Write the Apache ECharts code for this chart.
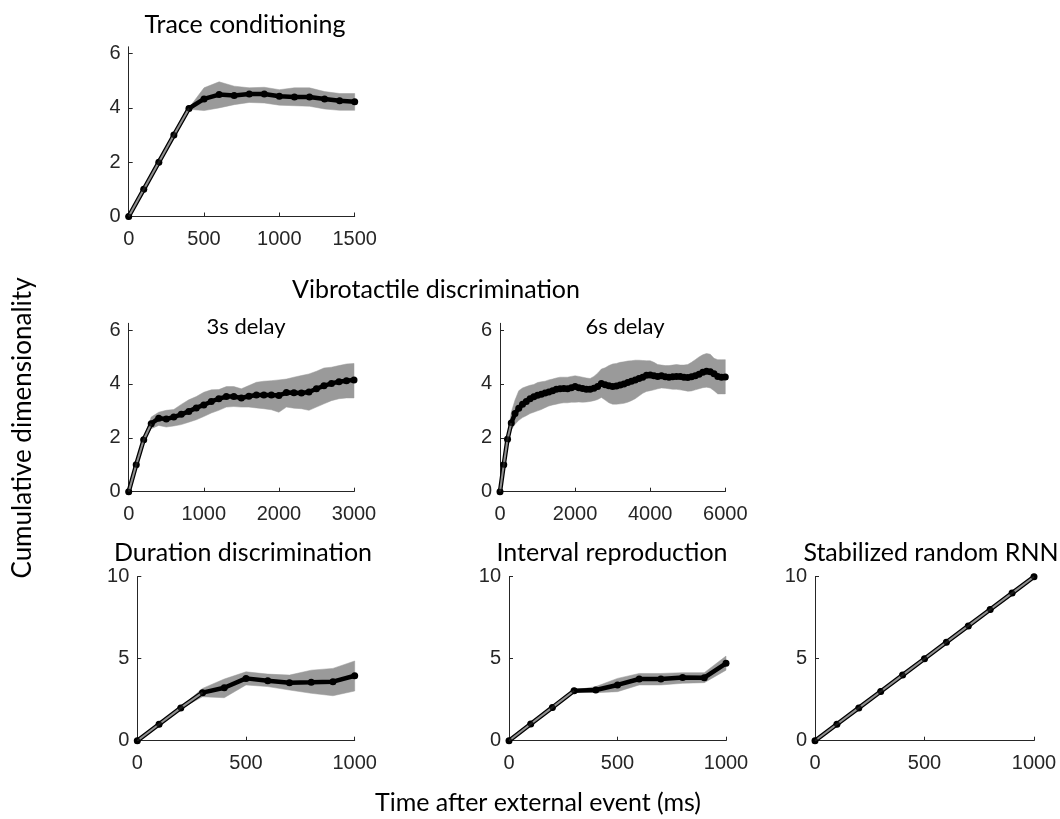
<!DOCTYPE html>
<html>
<head>
<meta charset="utf-8">
<script src="https://cdn.jsdelivr.net/npm/echarts@6/dist/echarts.min.js"></script>
<style>
html,body{margin:0;padding:0;background:#fff;}
#chart{width:1060px;height:819px;}
</style>
</head>
<body>
<div id="chart"></div>
<script>
// ---------- DATA ----------
// Trace conditioning (x every 100 ms, 0..1500)
const traceX = [0,100,200,300,400,500,600,700,800,900,1000,1100,1200,1300,1400,1500];
const traceMean  = [0,1,2,3,3.98,4.33,4.49,4.46,4.51,4.51,4.43,4.4,4.4,4.33,4.26,4.23];
const traceUpper = [0,1.02,2.02,3.02,4.0,4.74,4.96,4.8,4.74,4.76,4.67,4.74,4.74,4.6,4.53,4.53];
const traceLower = [0,0.98,1.98,2.98,3.95,3.9,4.0,4.12,4.2,4.18,4.1,4.08,4.06,3.96,3.91,3.91];

// Vibrotactile 3s delay (x every 100 ms, 0..3000)
const vib3X = [0,100,200,300,400,500,600,700,800,900,1000,1100,1200,1300,1400,1500,1600,1700,1800,1900,2000,2100,2200,2300,2400,2500,2600,2700,2800,2900,3000];
const vib3Mean  = [0,1.0,1.93,2.52,2.73,2.7,2.77,2.87,2.98,3.11,3.22,3.35,3.45,3.53,3.53,3.48,3.54,3.59,3.59,3.59,3.57,3.68,3.67,3.66,3.7,3.82,3.93,4.02,4.08,4.12,4.15];
const vib3Upper = [0,1.02,1.97,2.77,2.95,3.02,3.05,3.24,3.41,3.53,3.69,3.78,3.79,3.9,3.9,3.82,3.94,4.06,4.1,4.12,4.15,4.18,4.25,4.31,4.37,4.47,4.59,4.62,4.68,4.74,4.76];
const vib3Lower = [0,0.98,1.89,2.34,2.46,2.4,2.44,2.49,2.58,2.67,2.79,2.92,3.02,3.14,3.16,3.14,3.14,3.11,3.08,3.04,2.95,3.14,3.1,3.08,3.02,3.14,3.26,3.38,3.45,3.48,3.48];

// Vibrotactile 6s delay (x every 100 ms, 0..6000)
const vib6X = [0,100,200,300,400,500,600,700,800,900,1000,1100,1200,1300,1400,1500,1600,1700,1800,1900,2000,2100,2200,2300,2400,2500,2600,2700,2800,2900,3000,3100,3200,3300,3400,3500,3600,3700,3800,3900,4000,4100,4200,4300,4400,4500,4600,4700,4800,4900,5000,5100,5200,5300,5400,5500,5600,5700,5800,5900,6000];
const vib6Mean  = [0,1.0,1.95,2.55,2.9,3.1,3.25,3.35,3.45,3.52,3.58,3.62,3.66,3.7,3.75,3.8,3.82,3.83,3.82,3.86,3.9,3.86,3.83,3.8,3.8,3.84,3.9,4.02,3.97,3.93,3.9,3.92,3.96,4.0,4.05,4.1,4.15,4.2,4.25,4.32,4.33,4.3,4.28,4.3,4.27,4.25,4.27,4.28,4.28,4.25,4.24,4.27,4.3,4.36,4.43,4.47,4.45,4.38,4.28,4.25,4.26];
const vib6Upper = [0,1.02,2.0,2.95,3.4,3.75,3.85,3.9,3.95,3.98,4.05,4.08,4.1,4.15,4.18,4.22,4.25,4.25,4.25,4.28,4.3,4.28,4.25,4.22,4.2,4.28,4.4,4.55,4.6,4.68,4.74,4.76,4.8,4.82,4.85,4.86,4.88,4.88,4.87,4.86,4.86,4.8,4.72,4.7,4.68,4.68,4.7,4.72,4.7,4.7,4.72,4.8,4.9,5.0,5.08,5.13,5.1,4.95,4.9,4.9,4.9];
const vib6Lower = [0,0.98,1.9,2.3,2.5,2.65,2.75,2.82,2.9,2.95,3.0,3.05,3.12,3.18,3.22,3.25,3.28,3.3,3.3,3.32,3.32,3.33,3.32,3.33,3.35,3.38,3.42,3.5,3.4,3.3,3.25,3.25,3.26,3.28,3.32,3.38,3.45,3.55,3.65,3.72,3.75,3.78,3.82,3.85,3.84,3.82,3.8,3.8,3.78,3.76,3.73,3.74,3.78,3.82,3.86,3.88,3.85,3.75,3.63,3.63,3.63];

// Bottom row (x every 100 ms, 0..1000)
const shortX = [0,100,200,300,400,500,600,700,800,900,1000];
const durMean  = [0,1.0,2.0,2.93,3.23,3.8,3.66,3.54,3.56,3.6,3.96];
const durUpper = [0,1.05,2.05,3.19,3.76,4.2,4.06,4.0,4.3,4.41,4.86];
const durLower = [0,0.95,1.95,2.68,2.62,3.4,3.3,3.09,2.89,2.74,3.03];

const intMean  = [0,1.02,2.03,3.05,3.09,3.4,3.76,3.76,3.86,3.84,4.72];
const intUpper = [0,1.05,2.07,3.08,3.3,3.8,4.1,4.1,4.15,4.15,5.16];
const intLower = [0,0.98,1.98,3.0,2.93,2.99,3.4,3.4,3.5,3.54,4.3];

const rnnMean  = [0,1,2,3,4,5,6,7,8,9,10];
const rnnUpper = [0,1.05,2.05,3.05,4.05,5.05,6.05,7.05,8.05,9.05,10.05];
const rnnLower = [0,0.95,1.95,2.95,3.95,4.95,5.95,6.95,7.95,8.95,9.95];

// Tick labels
const yTicksTop = [0,2,4,6];
const yTicksBottom = [0,5,10];

// Titles
const titles = {
  trace: 'Trace conditioning',
  vib: 'Vibrotactile discrimination',
  d3: '3s delay',
  d6: '6s delay',
  dur: 'Duration discrimination',
  intv: 'Interval reproduction',
  rnn: 'Stabilized random RNN',
  ylabel: 'Cumulative dimensionality',
  xlabel: 'Time after external event (ms)'
};

// ---------- LAYOUT ----------
const panels = [
  {x: traceX, mean: traceMean, up: traceUpper, lo: traceLower, thin: 5, grid: {left:128.7, top:46.8, width:226, height:169.7}, xmax:1500, xint:500, ymax:6.25, yint:2, yt: yTicksTop},
  {x: vib3X, mean: vib3Mean, up: vib3Upper, lo: vib3Lower, thin: 4, grid: {left:128.7, top:323.3, width:225.3, height:168.4}, xmax:3000, xint:1000, ymax:6.25, yint:2, yt: yTicksTop},
  {x: vib6X, mean: vib6Mean, up: vib6Upper, lo: vib6Lower, thin: 4, grid: {left:500, top:323.3, width:225.3, height:168.4}, xmax:6000, xint:2000, ymax:6.25, yint:2, yt: yTicksTop},
  {x: shortX, mean: durMean, up: durUpper, lo: durLower, thin: 4, grid: {left:137.3, top:576.7, width:217.4, height:164}, xmax:1000, xint:500, ymax:10, yint:5, yt: yTicksBottom},
  {x: shortX, mean: intMean, up: intUpper, lo: intLower, thin: 4, grid: {left:509, top:576.7, width:217, height:164}, xmax:1000, xint:500, ymax:10, yint:5, yt: yTicksBottom},
  {x: shortX, mean: rnnMean, up: rnnUpper, lo: rnnLower, thin: 11, grid: {left:815, top:576.7, width:219, height:164}, xmax:1000, xint:500, ymax:10, yint:5, yt: yTicksBottom}
];

const axisColor = '#262626';
const tickFont = {color: axisColor, fontFamily: 'Liberation Sans', fontSize: 20, formatter: v => String(v)};
const bandColor = '#9a9a9a';

const grids = [], xAxes = [], yAxes = [], series = [];
panels.forEach((p, i) => {
  grids.push(Object.assign({containLabel:false}, p.grid));
  xAxes.push({
    type:'value', gridIndex:i, min:0, max:p.xmax, interval:p.xint,
    axisLine:{show:true, onZero:false, lineStyle:{color:axisColor, width:1}},
    axisTick:{show:true, inside:true, length:4, lineStyle:{color:axisColor}},
    axisLabel:Object.assign({margin:13}, tickFont),
    splitLine:{show:false}
  });
  yAxes.push({
    type:'value', gridIndex:i, min:0, max:p.ymax, interval:p.yint,
    axisLine:{show:true, onZero:false, lineStyle:{color:axisColor, width:1}},
    axisTick:{show:true, inside:true, length:4, lineStyle:{color:axisColor}, customValues:p.yt},
    axisLabel:Object.assign({margin:8, customValues:p.yt}, tickFont),
    splitLine:{show:false}
  });
  // shaded band as polygon through the axes' scales
  series.push({
    type:'custom', xAxisIndex:i, yAxisIndex:i, silent:true, z:1,
    data: p.x.map((x,k)=>[x, p.lo[k], p.up[k]]),
    encode:{x:0, y:[1,2]},
    renderItem: function(params, api) {
      if (params.dataIndex !== 0) return null;
      const pts = [];
      for (let k = 0; k < p.x.length; k++) pts.push(api.coord([p.x[k], p.up[k]]));
      for (let k = p.x.length - 1; k >= 0; k--) pts.push(api.coord([p.x[k], p.lo[k]]));
      return {type:'polygon', shape:{points:pts}, style:{fill:bandColor, stroke:bandColor, lineWidth:0.5}};
    }
  });
  series.push({
    type:'line', xAxisIndex:i, yAxisIndex:i, data:p.x.map((x,k)=>[x,p.mean[k]]),
    symbol:'circle', symbolSize:7, itemStyle:{color:'#000'},
    lineStyle:{color:'#000', width:4.5}, z:3
  });
  series.push({
    type:'line', xAxisIndex:i, yAxisIndex:i, data:p.x.slice(0,p.thin).map((x,k)=>[x,p.mean[k]]),
    symbol:'none', lineStyle:{color:'#8f8f8f', width:2}, z:4
  });
  series.push({
    type:'scatter', xAxisIndex:i, yAxisIndex:i, data:p.x.slice(0,p.thin).map((x,k)=>[x,p.mean[k]]),
    symbol:'circle', symbolSize:6, itemStyle:{color:'#000'}, z:5
  });
});

const titleFont = 'Lato';
function txt(text, x, y, size, rot) {
  return {type:'text', x:x, y:y, rotation: rot || 0, z:100,
    style:{text:text, fill:'#000', font: size + 'px ' + titleFont, textAlign:'center', textVerticalAlign:'middle'}};
}
const graphic = [
  txt(titles.trace, 245, 25, 25),
  txt(titles.vib, 436, 290, 25),
  txt(titles.d3, 246, 327, 22),
  txt(titles.d6, 625, 327, 22),
  txt(titles.dur, 243, 553, 25),
  txt(titles.intv, 612, 553, 25),
  txt(titles.rnn, 931, 553, 25),
  txt(titles.ylabel, 23, 428, 26, Math.PI/2),
  txt(titles.xlabel, 538, 803, 25)
];

const chart = echarts.init(document.getElementById('chart'), null, {renderer:'canvas'});
chart.setOption({
  animation:false,
  backgroundColor:'#fff',
  grid:grids, xAxis:xAxes, yAxis:yAxes, series:series, graphic:graphic
});
</script>
</body>
</html>
